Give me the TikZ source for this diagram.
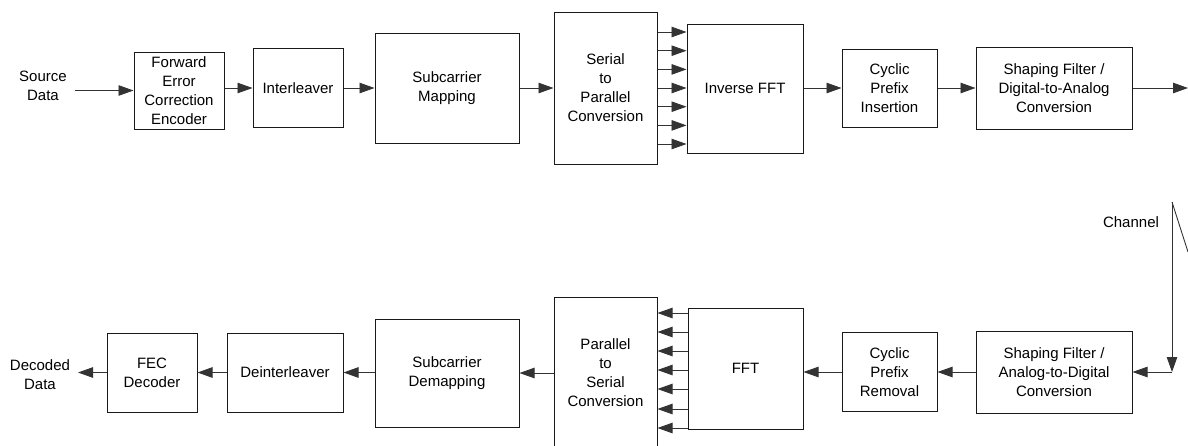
\documentclass[tikz,border=0pt]{standalone}
\usepackage{fontspec}
\setmainfont{Liberation Sans}
\usetikzlibrary{arrows.meta}
\begin{document}
\begin{tikzpicture}[x=1pt,y=-1pt,
  blk/.style={draw=black!90,line width=1pt,align=center,inner sep=0pt,
    font=\fontsize{15}{19}\selectfont},
  lbl/.style={align=center,inner sep=0pt,font=\fontsize{15}{19}\selectfont},
  arr/.style={draw=black!80,line width=0.9pt,-{Triangle[length=15pt,width=10.5pt]}},
  ln/.style={draw=black!80,line width=0.9pt}]
\useasboundingbox (0,0) rectangle (1188,445);
% top row
\node[lbl] (src) at (43,86) {Source\\Data};
\node[blk,minimum width=90pt,minimum height=77pt] (fec) at (179,90.5) {Forward\\Error\\Correction\\Encoder};
\node[blk,minimum width=90pt,minimum height=79pt] (intl) at (298,88) {Interleaver};
\node[blk,minimum width=144pt,minimum height=110pt] (scm) at (447,88) {Subcarrier\\Mapping};
\node[blk,minimum width=103pt,minimum height=152pt] (sp) at (605.5,88) {Serial\\to\\Parallel\\Conversion};
\node[blk,minimum width=116pt,minimum height=129pt] (ifft) at (745,88.5) {Inverse FFT};
\node[blk,minimum width=95pt,minimum height=78pt] (cpi) at (889.5,88) {Cyclic\\Prefix\\Insertion};
\node[blk,minimum width=156pt,minimum height=82pt] (sfa) at (1054,88) {Shaping Filter /\\Digital-to-Analog\\Conversion};
\coordinate (srcend) at (75,90.5);
\coordinate (out) at (1188,88);
\draw[arr] (srcend) -- (fec.west);
\draw[arr] (fec.east |- intl) -- (intl.west);
\draw[arr] (intl.east) -- (scm.west);
\draw[arr] (scm.east) -- (sp.west);
\foreach \yy in {32,50.7,69.4,88,106.7,125.4,144}
  \draw[arr] (sp.east |- 0,\yy) -- (ifft.west |- 0,\yy);
\draw[arr] (ifft.east |- cpi) -- (cpi.west);
\draw[arr] (cpi.east) -- (sfa.west);
\draw[arr] (sfa.east) -- (out);
% channel
\node[lbl] (chl) at (1131,222) {Channel};
\coordinate (ch1) at (1172,202);
\coordinate (ch2) at (1172,372);
\coordinate (ch3) at (1188,252);
\draw[ln] (ch1) -- (ch3);
\draw[arr] (ch1) -- (ch2);
% bottom row
\node[blk,minimum width=156pt,minimum height=82pt] (sfb) at (1054,372) {Shaping Filter /\\Analog-to-Digital\\Conversion};
\node[blk,minimum width=95pt,minimum height=79pt] (cpr) at (889.5,372) {Cyclic\\Prefix\\Removal};
\node[blk,minimum width=115pt,minimum height=121pt] (fft) at (745.5,368.5) {FFT};
\node[blk,minimum width=103pt,minimum height=152pt] (ps) at (605.5,373) {Parallel\\to\\Serial\\Conversion};
\node[blk,minimum width=144pt,minimum height=108pt] (scd) at (447,373) {Subcarrier\\Demapping};
\node[blk,minimum width=116pt,minimum height=79pt] (dint) at (285,372.5) {Deinterleaver};
\node[blk,minimum width=90pt,minimum height=79pt] (fecd) at (152,372.5) {FEC\\Decoder};
\node[lbl] (dec) at (40,375) {Decoded\\Data};
\coordinate (decend) at (78,372.5);
\draw[arr] (ch2) -- (sfb.east |- ch2);
\draw[arr] (sfb.west |- cpr) -- (cpr.east);
\draw[arr] (cpr.west) -- (cpr.west -| fft.east);
\foreach \yy in {313,332,351,370,389,409,428}
  \draw[arr] (fft.west |- 0,\yy) -- (ps.east |- 0,\yy);
\draw[arr] (ps.west) -- (scd.east);
\draw[arr] (scd.west |- dint) -- (dint.east);
\draw[arr] (dint.west) -- (fecd.east);
\draw[arr] (fecd.west) -- (decend);
\end{tikzpicture}
\end{document}
